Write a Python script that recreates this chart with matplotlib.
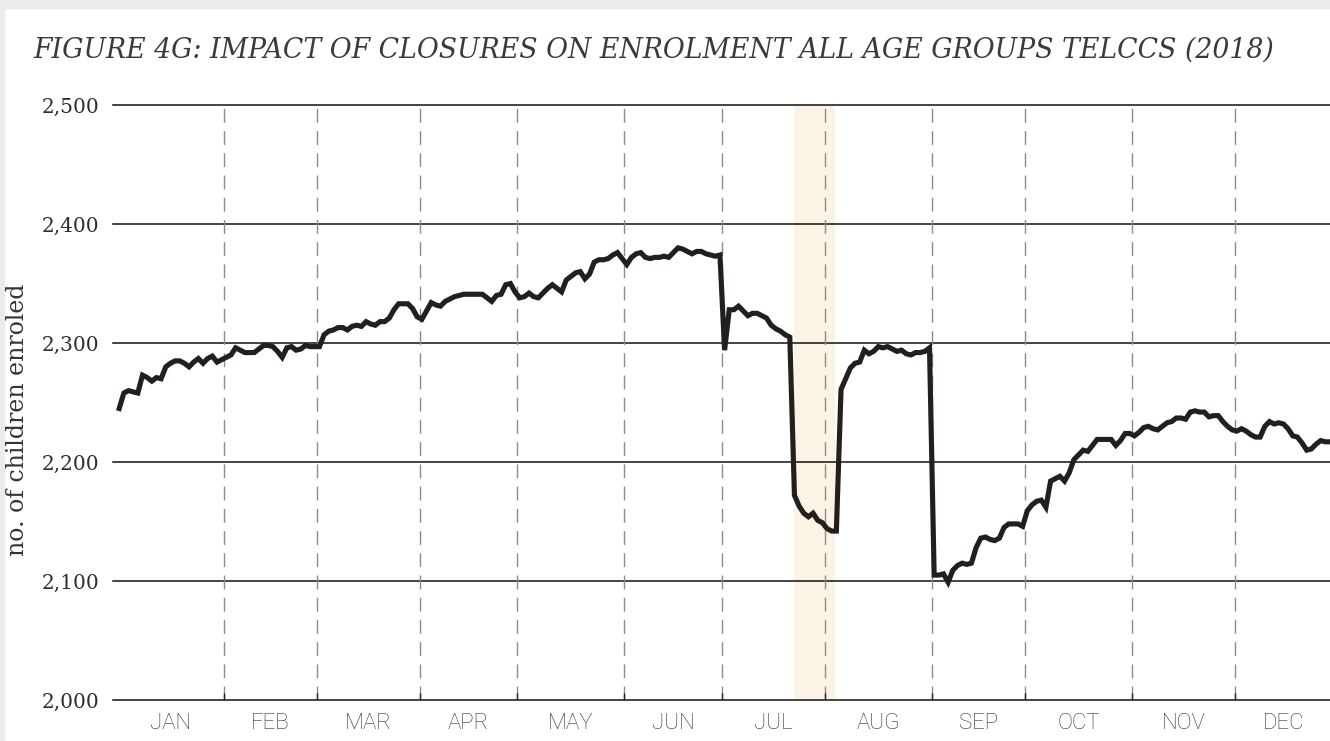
import numpy as np
import matplotlib.pyplot as plt
from matplotlib.patches import Rectangle

# month names and number of weekdays in each month (2018)
months = ['JAN', 'FEB', 'MAR', 'APR', 'MAY', 'JUN', 'JUL', 'AUG', 'SEP', 'OCT', 'NOV', 'DEC']
weekdays = [23, 20, 22, 21, 23, 21, 22, 23, 20, 23, 22, 21]

# children enrolled, one value per weekday
jan = [2245, 2258, 2260, 2259, 2258, 2273, 2271, 2268, 2271, 2270, 2280, 2283, 2285, 2285, 2283, 2280, 2284, 2287, 2283, 2287, 2289, 2284, 2286]
feb = [2288, 2290, 2296, 2294, 2292, 2292, 2292, 2295, 2298, 2298, 2297, 2293, 2288, 2296, 2297, 2294, 2295, 2298, 2297, 2297]
mar = [2297, 2307, 2310, 2311, 2313, 2313, 2311, 2314, 2315, 2314, 2318, 2316, 2315, 2318, 2318, 2321, 2328, 2333, 2333, 2333, 2329, 2322]
apr = [2320, 2327, 2334, 2332, 2331, 2335, 2337, 2339, 2340, 2341, 2341, 2341, 2341, 2341, 2338, 2335, 2340, 2341, 2349, 2350, 2343]
may = [2338, 2339, 2342, 2339, 2338, 2342, 2346, 2349, 2346, 2343, 2353, 2356, 2359, 2360, 2354, 2358, 2368, 2370, 2370, 2371, 2374, 2376, 2371]
jun = [2366, 2372, 2375, 2376, 2372, 2371, 2372, 2372, 2373, 2372, 2376, 2380, 2379, 2377, 2375, 2377, 2377, 2375, 2374, 2373, 2374]
jul = [2294, 2328, 2328, 2331, 2327, 2323, 2325, 2325, 2323, 2321, 2315, 2312, 2310, 2307, 2305, 2172, 2163, 2157, 2154, 2157, 2151, 2149]
aug = [2144, 2142, 2142, 2261, 2270, 2279, 2283, 2284, 2294, 2291, 2293, 2297, 2296, 2297, 2295, 2293, 2294, 2291, 2290, 2292, 2292, 2293, 2296]
sep = [2105, 2105, 2106, 2099, 2109, 2113, 2115, 2114, 2115, 2128, 2136, 2137, 2135, 2134, 2136, 2145, 2148, 2148, 2148, 2146]
oct_ = [2159, 2164, 2167, 2168, 2162, 2184, 2186, 2188, 2184, 2191, 2202, 2206, 2210, 2209, 2214, 2219, 2219, 2219, 2219, 2214, 2218, 2224, 2224]
nov = [2222, 2225, 2229, 2230, 2228, 2227, 2230, 2233, 2234, 2237, 2237, 2236, 2242, 2243, 2242, 2242, 2238, 2239, 2239, 2234, 2230, 2227]
dec = [2226, 2228, 2226, 2223, 2221, 2221, 2230, 2234, 2232, 2233, 2232, 2228, 2222, 2221, 2216, 2210, 2211, 2215, 2218, 2217, 2217]

# closure period (weekday index)
closure = (144.9, 153.8)

enrol = np.array(jan + feb + mar + apr + may + jun + jul + aug + sep + oct_ + nov + dec)
x = np.arange(len(enrol))

ends = np.cumsum(weekdays)
bounds = ends[:-1] - 0.5
centers = ends - np.array(weekdays) / 2 - 0.5

fig = plt.figure(figsize=(13.3, 7.41), dpi=100)
ax = fig.add_axes([0.085, 0.0553, 0.915, 0.8029])

# light frame at top and left of the picture
fig.patches.append(Rectangle((0, 1 - 8 / 741), 1, 8 / 741, transform=fig.transFigure, color='#ebebeb', zorder=0))
fig.patches.append(Rectangle((0, 0), 4 / 1330, 1, transform=fig.transFigure, color='#ebebeb', zorder=0))

ax.axvspan(closure[0], closure[1], color='#fbf3e4', lw=0, zorder=0)

for v in range(2000, 2501, 100):
    ax.axhline(v, color='#111111', lw=1.1, zorder=1, clip_on=False)

ax.vlines(bounds, 2000, 2500, colors='#8c8c8c', lw=1.0, linestyles=(0, (10, 6)), zorder=1)

ax.plot(x, enrol, color='#231f20', lw=3.7, zorder=3, solid_joinstyle='miter')

ax.set_xlim(-1.32, 260)
ax.set_ylim(2000, 2500)
for s in ax.spines.values():
    s.set_visible(False)

ax.set_yticks(range(2000, 2501, 100))
ax.set_yticklabels(['{:,}'.format(v) for v in range(2000, 2501, 100)],
                   fontfamily='DejaVu Serif', fontsize=14.5, color='#2e2e2e')
ax.tick_params(axis='y', length=0, pad=10)

ax.set_xticks(bounds)
ax.set_xticklabels([])
ax.tick_params(axis='x', which='major', direction='in', length=5, width=1, color='#1e1e1e')
ax.set_xticks(centers, minor=True)
ax.set_xticklabels(months, minor=True, fontfamily='Roboto', fontweight='light',
                   fontsize=16, color='#333333')
ax.tick_params(axis='x', which='minor', length=0, pad=9)

fig.text(0.0248, 0.933, 'FIGURE 4G: IMPACT OF CLOSURES ON ENROLMENT ALL AGE GROUPS TELCCS (2018)',
         fontfamily='DejaVu Serif', fontstyle='italic', fontsize=19.3, color='#3a3a3a',
         ha='left', va='center')
fig.text(0.0135, 0.433, 'no. of children enroled', rotation=90, fontfamily='DejaVu Serif',
         fontsize=17, color='#333333', ha='center', va='center')

fig.savefig('out.png', dpi=100)
